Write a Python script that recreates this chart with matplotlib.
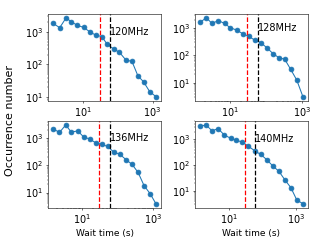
import numpy as np
import matplotlib
matplotlib.use('Agg')
import matplotlib.pyplot as plt

# Datos (tiempo de espera en s, numero de ocurrencias)
freqs = ['120MHz', '128MHz', '136MHz', '140MHz']

wait_120 = [1.39, 2.15, 3.27, 4.64, 6.9, 10.4, 15.5, 23.5, 35, 50, 77, 112, 170, 257, 380, 553, 830, 1250]
count_120 = [1780, 1320, 2630, 2000, 1550, 1350, 1000, 776, 708, 407, 295, 234, 138, 123, 45, 29.5, 14.8, 10.5]

wait_128 = [1.47, 2.2, 3.16, 4.74, 7.0, 10.2, 15.3, 22.5, 33, 48, 71, 104, 155, 225, 330, 484, 710, 1050]
count_128 = [1650, 2380, 1480, 1900, 1480, 1030, 845, 622, 500, 366, 293, 193, 117, 83, 72, 30.5, 12.5, 3.1]

wait_136 = [1.55, 2.33, 3.5, 5.0, 7.6, 11.1, 16.3, 24.5, 35.5, 52, 78, 115, 170, 254, 372, 550, 810, 1180]
count_136 = [2160, 1600, 3010, 1640, 1830, 1090, 920, 660, 592, 488, 305, 252, 162, 107, 55, 17.9, 9.1, 3.9]

wait_140 = [1.35, 2.04, 3.09, 4.68, 7.2, 11, 16.6, 25, 38, 59, 89, 135, 204, 309, 468, 708, 1070, 1620]
count_140 = [3230, 3640, 2140, 2630, 1470, 1120, 915, 790, 540, 358, 260, 162, 93, 58, 27, 13.4, 4.4, 3.2]

waits = [wait_120, wait_128, wait_136, wait_140]
counts = [count_120, count_128, count_136, count_140]

t_red = 30   # linea roja
t_black = 60  # linea negra

fig, axes = plt.subplots(2, 2, figsize=(6.4, 4.8), dpi=50)
plt.subplots_adjust(left=0.15, right=0.9625, bottom=0.135, top=0.942,
                    wspace=0.30, hspace=0.237)

for ax, w, c, f in zip(axes.flat, waits, counts, freqs):
    ax.plot(w, c, 'o-', color='C0', markersize=7)
    ax.set_xscale('log')
    ax.set_yscale('log')
    ax.axvline(t_red, color='red', linestyle='--', linewidth=1.8)
    ax.axvline(t_black, color='black', linestyle='--', linewidth=1.8)
    ax.text(t_black, 1000, f, fontsize=14, ha='left', va='center')
    ax.set_xticks([10, 1000])
    ax.tick_params(labelsize=14)

for ax in axes[1]:
    ax.set_xlabel('Wait time (s)', fontsize=13)

fig.text(0.032, 0.5, 'Occurrence number', rotation=90, va='center', ha='center', fontsize=16)

plt.savefig('out.png')
